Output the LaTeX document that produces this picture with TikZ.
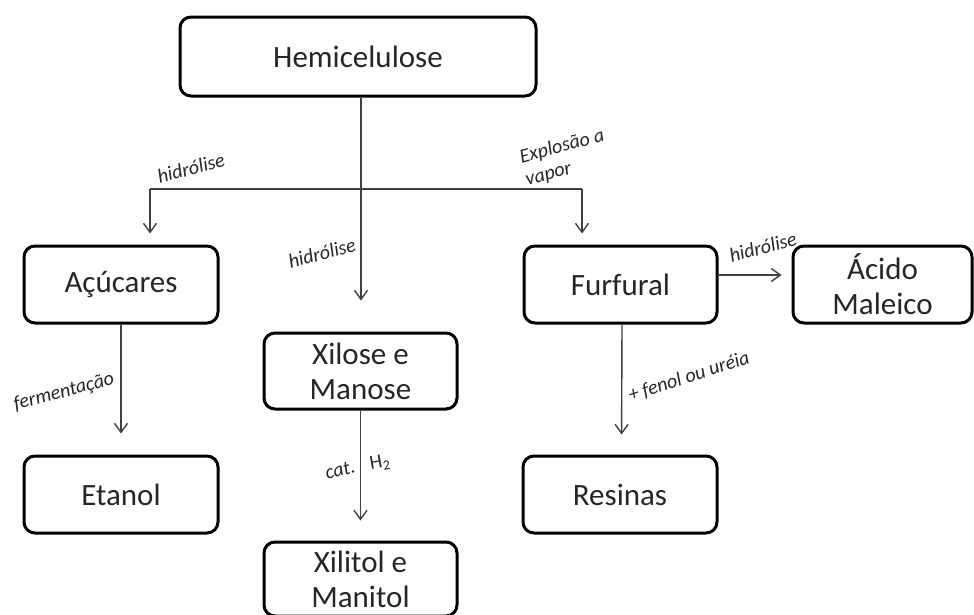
\documentclass[tikz,border=0pt]{standalone}
\usepackage{fontspec}
\setmainfont{Carlito}
\usetikzlibrary{arrows.meta,positioning}

\begin{document}
\begin{tikzpicture}[x=1pt,y=-1pt,
    box/.style={draw=black,line width=3pt,rounded corners=11pt,align=center,
      font=\fontsize{31}{35}\selectfont,text=black!85},
    conn/.style={draw=black!75,line width=1.4pt},
    arr/.style={conn,-{Straight Barb[length=9pt,width=13pt]}},
    lbl/.style={font=\fontsize{20}{23}\selectfont\itshape,text=black!85,rotate=15,inner sep=0pt}]
    \useasboundingbox (0,0) rectangle (974,614);

    % Draw boxes
    \node[box,minimum width=356,minimum height=79] (hemi) at (358,56.5) {Hemicelulose};
    \node[box,minimum width=194,minimum height=77] (acu) at (121,284.5) {Açúcares};
    \node[box,minimum width=193,minimum height=76] (xil) at (360.5,371) {Xilose e\\Manose};
    \node[box,minimum width=193,minimum height=77] (fur) at (620.5,284.5) {Furfural};
    \node[box,minimum width=179,minimum height=77] (aci) at (882.5,284.5) {Ácido\\Maleico};
    \node[box,minimum width=194,minimum height=77] (eta) at (121,494.5) {Etanol};
    \node[box,minimum width=193,minimum height=74] (xit) at (360.5,579) {Xilitol e\\Manitol};
    \node[box,minimum width=194,minimum height=77] (res) at (620,494.5) {Resinas};

    % Draw branch from the top box
    \coordinate (split) at (361,189);
    \coordinate (jl) at (150,189);
    \coordinate (jr) at (582,189);
    \draw[conn] (hemi.south -| split) -- (split);
    \draw[conn] (jl) -- (jr);

    % Draw arrows
    \draw[arr,shorten >=11pt] (jl) -- (jl |- acu.north);
    \draw[arr,shorten >=31pt] (split) -- (split |- xil.north);
    \draw[arr,shorten >=11pt] (jr) -- (jr |- fur.north);
    \draw[arr,shorten >=21pt] (acu) -- (eta);
    \draw[arr,shorten >=20pt] (xil) -- (xit);
    \draw[arr,shorten >=20pt] ([xshift=1.5pt]fur.south) -- ([xshift=1.5pt]res.north);
    \draw[arr,shorten >=10pt] ([yshift=9.5pt]fur.east) -- ([yshift=9.5pt]aci.west);

    % Add labels of the steps
    \node[lbl] (hidl) at (191,168) {hidrólise};
    \node[lbl] (hidm) at (322,253) {hidrólise};
    \node[lbl,align=left] (expl) at (565,158) {Explosão a\\vapor};
    \node[lbl] (hidr) at (763,247) {hidrólise};
    \node[lbl] (ferm) at (64,392) {fermentação};
    \node[lbl,rotate=3] (fen) at (689,377) {+ fenol ou uréia};
    \node[lbl] (cat) at (340,470) {cat.};
    \node[lbl,font=\fontsize{20}{23}\selectfont,rotate=-5] (hyd) at (380,463) {H\textsubscript{2}};
\end{tikzpicture}
\end{document}
